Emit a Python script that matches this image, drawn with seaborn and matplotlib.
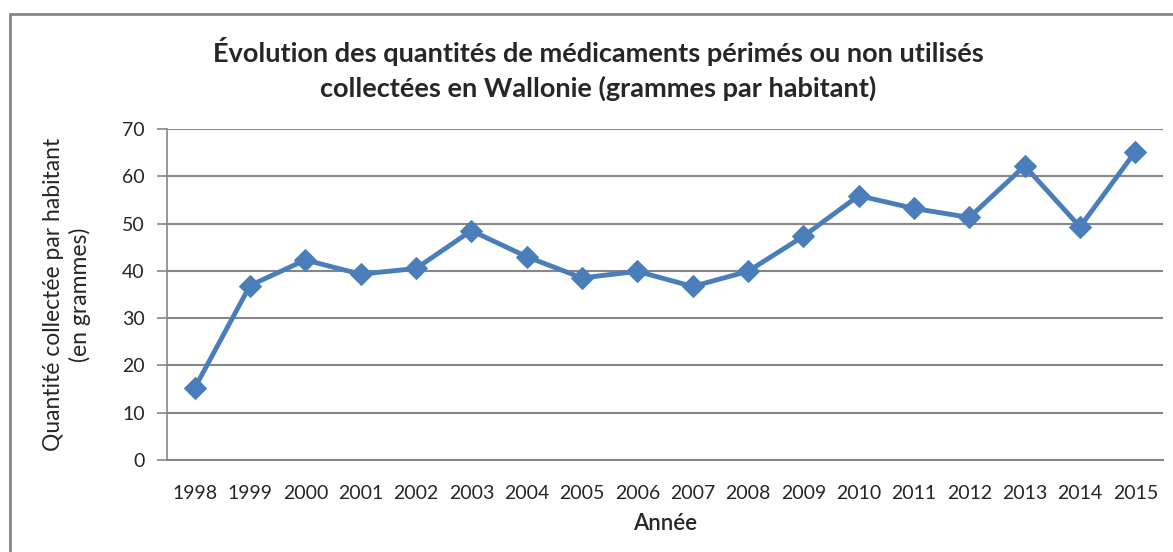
#recreate the Wallonie expired medicines chart
import matplotlib
matplotlib.use('Agg')
import matplotlib.pyplot as plt
import seaborn as sns
import pandas as pd
from matplotlib.lines import Line2D

#data
annees = ['1998', '1999', '2000', '2001', '2002', '2003', '2004', '2005', '2006',
          '2007', '2008', '2009', '2010', '2011', '2012', '2013', '2014', '2015']
quantites = [15.2, 36.9, 42.3, 39.3, 40.5, 48.5, 43.0, 38.5, 39.9,
             36.7, 39.9, 47.3, 55.9, 53.2, 51.3, 62.2, 49.3, 65.2]
y_ticks = [0, 10, 20, 30, 40, 50, 60, 70]

df = pd.DataFrame({'Annee': annees, 'Quantite': quantites})

sns.set_theme(style='white')
plt.rcParams['font.family'] = ['Lato', 'DejaVu Sans']

fig = plt.figure(figsize=(11.73, 5.52), dpi=100)
ax = fig.add_axes([167/1173, 1 - 460/552, (1163-167)/1173, (460-129)/552])

sns.lineplot(data=df, x='Annee', y='Quantite', ax=ax, color='#4a7ebb',
             linewidth=3.5, marker='D', markersize=11, markeredgecolor='#4a7ebb',
             sort=False)

ax.set_xlim(-0.5, len(annees) - 0.5)
ax.set_ylim(0, 70)
ax.set_yticks(y_ticks)
ax.grid(axis='y', color='#868686', linewidth=1.5)
ax.grid(axis='x', visible=False)
ax.set_axisbelow(True)

for s in ['top', 'right']:
    ax.spines[s].set_visible(False)
ax.spines['left'].set_color('#868686')
ax.spines['bottom'].set_color('#868686')
ax.spines['left'].set_linewidth(1.2)
ax.spines['bottom'].set_linewidth(1.5)

ax.tick_params(axis='y', direction='out', length=7, color='#868686', width=1.2,
               labelsize=14, pad=9, left=True)
ax.tick_params(axis='x', length=0, labelsize=14, pad=18)

ax.set_xlabel('Année', fontsize=16, fontweight='semibold', labelpad=8)
ax.set_ylabel('Quantité collectée par habitant\n(en grammes)', fontsize=16.5,
              labelpad=22, linespacing=1.3)

fig.text(0.51, 0.875, 'Évolution des quantités de médicaments périmés ou non utilisés\n'
         'collectées en Wallonie (grammes par habitant)',
         ha='center', va='center', fontsize=19.5, fontweight='bold', linespacing=1.45)

#outer chart frame
fig.add_artist(Line2D([10/1173, 10/1173], [0, 1 - 14/552], color='#868686', linewidth=2))
fig.add_artist(Line2D([10/1173, 1], [1 - 14/552, 1 - 14/552], color='#868686', linewidth=2))

plt.savefig('out.png', dpi=100)
